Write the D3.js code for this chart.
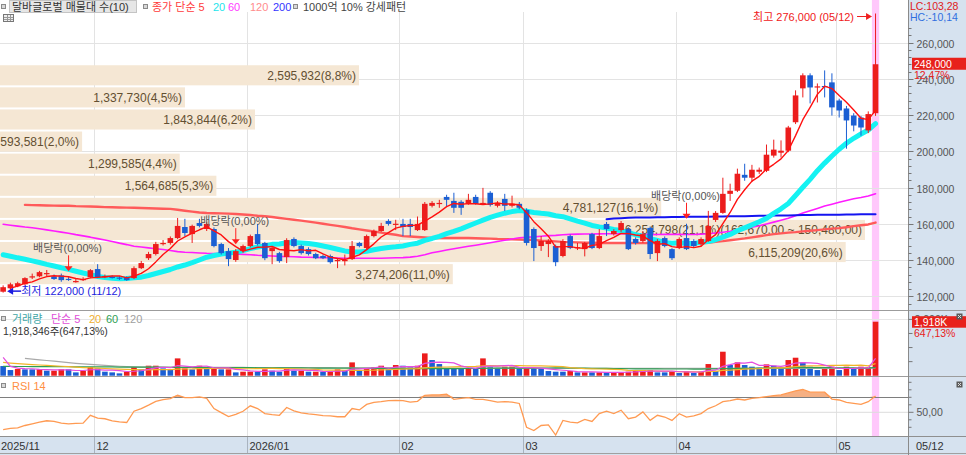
<!DOCTYPE html>
<html><head><meta charset="utf-8">
<script src="https://cdn.jsdelivr.net/npm/d3@7"></script>
<style>
html,body{margin:0;padding:0;background:#fff;}
svg{display:block;}
text{font-family:"Liberation Sans","Noto Sans CJK KR",sans-serif;}
</style></head><body>
<svg id="chart" width="966" height="455"></svg>
<script>
// ---------------- DATA ----------------
const dates = [
"2025-11-12","2025-11-13","2025-11-14","2025-11-17","2025-11-18","2025-11-19","2025-11-20","2025-11-21","2025-11-24","2025-11-25","2025-11-26","2025-11-27","2025-11-28",
"2025-12-01","2025-12-02","2025-12-03","2025-12-04","2025-12-05","2025-12-08","2025-12-09","2025-12-10","2025-12-11","2025-12-12","2025-12-15","2025-12-16","2025-12-17","2025-12-18","2025-12-19","2025-12-22","2025-12-23","2025-12-24","2025-12-26","2025-12-29","2025-12-30",
"2026-01-02","2026-01-05","2026-01-06","2026-01-07","2026-01-08","2026-01-09","2026-01-12","2026-01-13","2026-01-14","2026-01-15","2026-01-16","2026-01-19","2026-01-20","2026-01-21","2026-01-22","2026-01-23","2026-01-26","2026-01-27","2026-01-28","2026-01-29","2026-01-30",
"2026-02-02","2026-02-03","2026-02-04","2026-02-05","2026-02-06","2026-02-09","2026-02-10","2026-02-11","2026-02-12","2026-02-13","2026-02-19","2026-02-20","2026-02-23","2026-02-24","2026-02-25","2026-02-26","2026-02-27",
"2026-03-03","2026-03-04","2026-03-05","2026-03-06","2026-03-09","2026-03-10","2026-03-11","2026-03-12","2026-03-13","2026-03-16","2026-03-17","2026-03-18","2026-03-19","2026-03-20","2026-03-23","2026-03-24","2026-03-25","2026-03-26","2026-03-27","2026-03-30","2026-03-31",
"2026-04-01","2026-04-02","2026-04-03","2026-04-06","2026-04-07","2026-04-08","2026-04-09","2026-04-10","2026-04-13","2026-04-14","2026-04-15","2026-04-16","2026-04-17","2026-04-20","2026-04-21","2026-04-22","2026-04-23","2026-04-24","2026-04-27","2026-04-28","2026-04-29","2026-04-30",
"2026-05-04","2026-05-06","2026-05-07","2026-05-08","2026-05-11","2026-05-12"];

const opens = [
122500,124400,125500,126600,130500,131000,132500,131000,131500,129600,
128200,129200,130500,135000,130900,130700,130300,130500,130000,135500,
141000,143300,149100,149400,152100,158200,154300,160400,157100,157100,
148800,144900,140000,144900,147700,154300,149400,144900,143800,141600,
151600,147700,146000,143300,142200,142200,139700,139700,140500,149400,
146600,153200,156000,161500,159700,159900,159900,156500,156500,169900,
171300,174800,172600,172100,171000,174800,171300,177100,169900,173700,
169900,171000,167600,157100,147700,148800,147700,142200,153200,146600,
146000,154300,146600,159900,154300,156500,157100,151600,150500,157700,
143800,152100,146000,146600,152100,150500,148800,150500,162100,166000,
176500,178200,187000,185400,188700,189200,197600,199200,200300,216000,
234700,241900,235200,236000,238000,228000,223600,219700,218600,211500,221000];
const highs = [
126000,127500,128000,130500,132500,134000,134500,132000,132500,131000,
129500,130500,135000,137700,132000,131500,131000,131000,136500,139500,
144500,150000,151000,153000,163200,162700,159500,162700,161000,158000,
149500,146600,146000,148500,154000,159900,150000,147500,144500,152000,
152500,148500,147000,144000,143000,143000,141000,143000,150500,150000,
154000,156800,160500,162500,162200,162700,162700,164000,172000,172500,
173200,176000,177100,173000,176500,176000,179800,178000,172500,176500,
175500,172000,168500,158000,153200,151500,148500,151500,154000,149400,
150000,155000,157100,161000,157000,161500,158000,152500,156000,158500,
151500,153000,146500,152500,160000,151500,152500,167100,167000,185400,
182100,190400,193100,192500,191000,203700,206400,206000,214000,233600,
243000,243000,237400,244600,243000,229000,225000,221000,219500,222000,276000];
const lows = [
122000,123500,125000,126000,129500,130500,131000,129000,128000,128500,
127500,128500,130000,130000,130000,129800,129000,128500,129500,135000,
140000,142500,148000,148500,151500,153200,149400,158000,156000,147000,
143000,136600,139000,144000,147000,148000,139900,137700,138500,138300,
147000,143000,142500,140500,140500,138000,135500,137000,140000,147000,
146000,152500,155500,159000,156500,153200,153200,156000,156000,169000,
168800,169500,166000,164900,170500,170500,170500,169500,169000,167000,
169000,168000,148000,139400,145000,141600,136600,141500,146000,145500,
142000,146000,146000,153200,153500,155500,145500,148500,149500,140500,
139400,147000,140000,146000,145500,147000,147500,150000,161000,165500,
172600,177500,183700,183000,187500,188500,196500,196500,199500,215000,
229700,226400,226900,229700,219700,218600,201400,211000,208600,210000,219500];
const closes = [
125000,126600,127200,130000,131000,133300,132800,129500,128900,129400,
128400,129500,134400,130500,131100,130400,129800,128900,135500,138300,
143300,148800,149400,152100,158800,154900,158800,158800,159900,147700,
143800,140500,144900,147700,153200,148800,141000,146600,139400,151000,
147700,143800,143300,141000,141000,138800,140000,140000,147700,147700,
153200,156000,158800,159900,160000,158200,158200,159900,171000,171500,
171500,173200,168800,168800,173200,171000,171500,170400,171500,169900,
171000,168800,149400,146600,150500,150500,138800,150500,146600,147100,
149400,146600,153200,157100,156000,160400,146000,149400,154300,143300,
150500,147700,141000,151600,146000,147700,151600,158800,166000,176500,
178200,187600,185400,189800,189800,198100,200900,200300,213100,230800,
241900,235200,235800,235800,224200,222500,217000,214200,213100,220500,248000];

const ma5Warm  = [null,124500,125600,127200];
const ma20Warm = [142900,142100,141200,140400,139500,138600,137600,136700,135700,134800,
                  133800,132800,131900,130900,130300,129900,129600,129800,130200];
const ma60Warm = [159700,159200,158700,158200,157800,157200,156600,156000,155400,154800,
                  154000,153300,152600,151800,151000,150200,149300,148500,147600,147200,
                  146700,146200,145800,145200,144600,144300,144100,143900,143700,143600,
                  143500,143400,143300,143100,142900,142600,142400,142200,142000,141900,
                  141800,141600,141500,141400,141300,141200,141100,141000,141000,141000,
                  141000,141000,141000,141100,141200,141300,141600,142100,142900];
const ma120Warm = [null,null,null,170400,170300,170200,170100,170000,169950,169900,
                  169700,169600,169500,169350,169200,169100,169000,168900,168800,168700,
                  168550,168400,168300,168200,167700,167200,166700,166200,165900,165800,
                  165700,165600,165400,165100,164800,164400,164100,163700,163200,162700,
                  162200,161700,161200,160600,160000,159400,158800,158200,157500,156900,
                  156300,155700,155100,154500,153900,153200,153000,152700,152400,152100,
                  152100,152100,152100,152100,152100,152000,151900,151800,151600,151500,
                  151400,151300,151100,151000,150700,150500,150300,150000,149850,149750,
                  149600,149500,149400,149400,149400,149400,149400,149400,149400,149400,
                  149400,149400,149400,149400,149400,149400,149400,149500,150000,150400,
                  150900,151400,151900,152500,153100,153700,154300,154700,155100,155400,
                  155800,156100,156500,156900,157300,157600,158100,158700,159200];
const ma200Read = Array(83).fill(null).concat([
                  162500,162900,163100,163300,163400,163500,163500,163600,163600,163700,
                  163700,163800,163800,163900,163900,164000,164000,164100,164200,164200,
                  164300,164400,164400,164500,164600,164600,164700,164800,164800,164900,
                  164900,165000,165000,165100,165100,165200,165200,165300]);

// volume (thousand shares) and bar colour flags (u = red, d = blue)
const volumesK = [
343,201,237,225,225,225,178,178,225,225,
118,178,308,260,142,118,83,142,308,225,
355,355,260,225,615,260,225,355,260,308,
225,225,118,142,142,142,225,178,142,308,
178,178,142,142,142,142,225,178,473,178,
260,308,355,225,379,355,308,355,793,556,
414,260,260,260,260,260,615,320,260,320,
320,260,260,260,260,166,142,142,166,118,
118,118,118,118,118,118,142,166,201,201,
118,118,166,95,166,95,142,414,166,852,
379,473,379,320,284,402,355,284,556,639,
473,320,201,237,320,201,320,237,320,296.438,1918.346];
const volUp = "ddudduduud" + "duudddduud" + "uudduududu" + "duduududdu" + "dududuudud" +
              "uuududduud" + "ddddududdu" + "ududddddud" + "ududuuuuuu" + "ddududuudu" +
              "dudddudduu" + "ddduududuu" + "u";
const vma5Warm  = [650,330,270,250];
const vma20Warm = [470,450,430,410,395,380,365,350,335,320,305,290,280,268,256,245,235,225,215];
const vma60Warm = [330,328,327,326,324,323,322,320,319,318,
                   316,315,314,312,311,310,308,307,306,304,
                   303,302,300,299,298,296,295,294,292,291,
                   290,288,287,286,284,283,282,280,279,278,
                   276,275,274,272,271,270,268,267,266,264,
                   263,262,260,259,258,256,255,254,252];
const vma120Warm = [null,null,null,615,590,565,540,515,490,465,
                   440,420,400,382,366,350,336,322,312,305,
                   304,303,302,301,300,300,299,298,297,296,
                   296,295,294,293,292,292,291,290,289,288,
                   288,287,286,285,284,284,283,282,281,280,
                   280,279,278,277,276,276,275,274,273,272,
                   272,271,270,270,269,269,268,268,267,267,
                   266,266,265,265,264,264,263,263,262,262,
                   262,261,261,261,260,260,260,260,260,260,
                   260,260,260,260,260,260,260,260,260,260,
                   260,260,260,260,260,260,260,260,260,260,
                   260,260,260,260,260,260,260,260,260];

const rsi14 = [
26.9,28.7,29.2,32.4,34.6,36.9,38.7,37.8,35.5,34.6,
35.1,35.5,46.0,42.3,41.4,38.7,37.3,36.4,51.4,55.0,
59.6,64.6,66.8,68.2,72.7,69.5,69.5,70.5,68.6,55.0,
49.6,44.2,47.3,51.4,58.7,55.0,48.2,46.9,46.0,56.4,
51.9,49.1,47.8,46.9,45.5,45.1,44.1,44.1,55.0,53.2,
60.5,63.2,64.1,65.5,65.9,65.5,63.7,64.6,72.7,73.2,
73.2,74.1,67.3,68.6,69.5,67.3,67.3,65.5,63.7,64.1,
63.7,61.8,30.1,25.6,32.4,33.3,19.7,39.2,36.9,36.0,
40.5,37.8,48.2,51.4,48.2,52.8,41.4,43.7,50.5,39.2,
46.0,43.7,39.2,48.2,43.7,45.1,48.2,55.0,58.7,64.1,
65.5,67.7,66.4,68.6,69.5,70.9,72.3,73.2,75.9,78.6,
80.4,76.8,76.8,76.8,67.7,66.4,63.2,61.8,60.5,64.1,71.8];

// price-volume profile (매물대), top band first
const bandBounds  = [248000,235810,223620,211430,199240,187050,174860,162670,150480,138290,126100];
const bandVolumes = [2595932,1337730,1843844,593581,1299585,1564685,4781127,6254798,6115209,3274206];

const priceTicks = [120000,140000,160000,180000,200000,220000,240000,260000];
const dividendDates = ["2025-11-25","2025-12-29","2026-04-02"];
const lcText = "LC:103,28", hcText = "HC:-10,14";

// ---------------- CHART ----------------
const svg = d3.select('#chart');
const PR = 908.5;              // right edge of the plot area
const N = dates.length;
const RED = '#ec1d1d', BLUE = '#1b5fd3', AXBG = '#d6e2ef';
const fmt = d3.format(',');
const comma = s => s.replace('.', ',');

const x = d3.scaleBand().domain(dates).range([-0.5, -0.5 + N * 7.27]);
const cx = i => x(dates[i]) + x.bandwidth() / 2;
const yP = d3.scaleLinear().domain([140000, 260000]).range([260, 42.5]);
const yV = d3.scaleLinear().domain([0, 2000000]).range([375.7, 319.4]);
const yR = d3.scaleLinear().domain([50, 70]).range([412.3, 397.3]);

const volumes = volumesK.map(v => Math.round(v * 1000));
function sma(src, n, warm) {
  return src.map((_, i) => i >= n - 1 ? d3.mean(src.slice(i - n + 1, i + 1))
                                      : (warm && warm[i] != null ? warm[i] : null));
}
const ma5 = sma(closes, 5, ma5Warm), ma20 = sma(closes, 20, ma20Warm),
      ma60 = sma(closes, 60, ma60Warm), ma120 = sma(closes, 120, ma120Warm), ma200 = ma200Read;
const vma5 = sma(volumes, 5, vma5Warm.map(v => v * 1000)),
      vma20 = sma(volumes, 20, vma20Warm.map(v => v * 1000)),
      vma60 = sma(volumes, 60, vma60Warm.map(v => v * 1000)),
      vma120 = sma(volumes, 120, vma120Warm.map(v => v == null ? null : v * 1000));

const defs = svg.append('defs');
defs.append('clipPath').attr('id', 'cp').append('rect').attr('x', 0).attr('y', 0).attr('width', PR).attr('height', 310);
defs.append('clipPath').attr('id', 'cv').append('rect').attr('x', 0).attr('y', 311).attr('width', PR).attr('height', 65);
defs.append('clipPath').attr('id', 'cr').append('rect').attr('x', 0).attr('y', 376.5).attr('width', PR).attr('height', 60);

svg.append('rect').attr('width', 966).attr('height', 455).attr('fill', '#fff');
svg.append('rect').attr('x', PR).attr('y', 0).attr('width', 966 - PR).attr('height', 455).attr('fill', AXBG);
svg.append('rect').attr('x', 0).attr('y', 436.5).attr('width', 966).attr('height', 18.5).attr('fill', AXBG);

// highlight of the latest session
svg.append('rect').attr('x', x(dates[N - 1])).attr('y', 0).attr('width', x.bandwidth()).attr('height', 436)
  .attr('fill', '#ffc8fb');

// grid
const grid = svg.append('g').attr('stroke', '#e3e3e3').attr('stroke-width', 1);
priceTicks.forEach(v => grid.append('line').attr('x1', 0).attr('x2', PR)
  .attr('y1', Math.round(yP(v)) + 0.5).attr('y2', Math.round(yP(v)) + 0.5));
const monthIdx = dates.map((d, i) => i).filter(i => i > 0 && dates[i].slice(5, 7) !== dates[i - 1].slice(5, 7));
monthIdx.forEach(i => {
  const gx = Math.round(x(dates[i])) + 0.5;
  grid.append('line').attr('x1', gx).attr('x2', gx).attr('y1', 12).attr('y2', 436);
  svg.append('line').attr('x1', gx).attr('x2', gx).attr('y1', 436.5).attr('y2', 453).attr('stroke', '#a9b3bf');
});
svg.append('line').attr('x1', 0).attr('x2', PR).attr('y1', Math.round(yV(2000000)) + 0.5).attr('y2', Math.round(yV(2000000)) + 0.5).attr('stroke', '#e6e6e6');
svg.append('line').attr('x1', 0).attr('x2', PR).attr('y1', yR(50)).attr('y2', yR(50)).attr('stroke', '#dcdcdc');

// price panel
const gp = svg.append('g').attr('clip-path', 'url(#cp)');

// volume profile bands
const totalBand = d3.sum(bandVolumes);
const wBand = d3.scaleLinear().domain([0, d3.max(bandVolumes)]).range([0, 865]);
const maxBand = d3.maxIndex(bandVolumes);
const f2 = v => d3.format(',.2f')(v).replace(/\.(\d\d)$/, ',$1');
bandVolumes.forEach((v, k) => {
  const t = yP(bandBounds[k]), b = yP(bandBounds[k + 1]);
  const w = wBand(v);
  gp.append('rect').attr('x', 0).attr('y', t + 1).attr('width', w).attr('height', b - t - 2).attr('fill', '#f5e7d4');
  let label = fmt(v) + '(' + comma((v / totalBand * 100).toFixed(1)) + '%)';
  if (k === maxBand) label += '(' + f2(bandBounds[k]) + ' ~ ' + f2(bandBounds[k + 1]) + ')';
  gp.append('text').attr('x', w - 3).attr('y', (t + b) / 2 + 0.5).attr('text-anchor', 'end')
    .attr('dominant-baseline', 'central').attr('font-size', 12).attr('fill', '#634f31').text(label);
});

const line = d3.line().defined(d => d != null).x((d, i) => cx(i)).y(d => yP(d));
function mline(g, data, color, w) {
  g.append('path').datum(data).attr('d', line).attr('fill', 'none').attr('stroke', color)
    .attr('stroke-width', w).attr('stroke-linejoin', 'round').attr('stroke-linecap', 'round');
}
mline(gp, ma120, '#ff5a5a', 2.4);
mline(gp, ma60, '#ff1cff', 1.6);
mline(gp, ma200, '#1414f0', 2);
mline(gp, ma20, '#14f2f2', 5);

// candles
const gc = gp.append('g');
dates.forEach((d, i) => {
  const up = closes[i] >= opens[i];
  const col = up ? RED : BLUE;
  const c = cx(i);
  gc.append('line').attr('x1', c).attr('x2', c).attr('y1', yP(highs[i])).attr('y2', yP(lows[i]))
    .attr('stroke', col).attr('stroke-width', 1);
  const top = yP(Math.max(opens[i], closes[i])), bot = yP(Math.min(opens[i], closes[i]));
  gc.append('rect').attr('x', c - 2.8).attr('y', top).attr('width', 5.6).attr('height', Math.max(1.2, bot - top))
    .attr('fill', col);
});
mline(gp, ma5, '#ff1010', 1.4);

// dividend markers
dividendDates.forEach(dd => {
  const i = dates.indexOf(dd);
  const c = cx(i), tip = yP(highs[i]) - 5;
  gp.append('line').attr('x1', c).attr('x2', c).attr('y1', tip - 16).attr('y2', tip - 4).attr('stroke', '#ff2020');
  gp.append('path').attr('d', `M${c - 4},${tip - 5}L${c + 4},${tip - 5}L${c},${tip}Z`).attr('fill', '#ff2020');
  gp.append('text').attr('x', c - 1).attr('y', tip - 23).attr('text-anchor', 'middle').attr('dominant-baseline', 'central')
    .attr('font-size', 11).attr('fill', '#555').text('배당락(0,00%)');
});

// high / low markers
const hi = d3.maxIndex(highs), lo = d3.minIndex(lows);
const md = s => s.slice(5, 7) + '/' + s.slice(8, 10);
{
  const c = cx(hi) - 3.5, yy = yP(highs[hi]) + 3;
  gp.append('text').attr('x', c - 18).attr('y', yy).attr('text-anchor', 'end').attr('dominant-baseline', 'central')
    .attr('font-size', 11).attr('fill', '#f02020').text('최고 ' + fmt(highs[hi]) + ' (' + md(dates[hi]) + ')');
  gp.append('line').attr('x1', c - 15).attr('x2', c - 3).attr('y1', yy).attr('y2', yy).attr('stroke', '#f02020');
  gp.append('path').attr('d', `M${c},${yy}L${c - 6},${yy - 3.5}L${c - 6},${yy + 3.5}Z`).attr('fill', '#f02020');
}
{
  const c = cx(lo) + 4, yy = yP(lows[lo]) - 1.5;
  gp.append('path').attr('d', `M${c},${yy}L${c + 6},${yy - 3.5}L${c + 6},${yy + 3.5}Z`).attr('fill', '#1c1ce0');
  gp.append('line').attr('x1', c + 5).attr('x2', c + 14).attr('y1', yy).attr('y2', yy).attr('stroke', '#1c1ce0').attr('stroke-width', 1.5);
  gp.append('text').attr('x', c + 14).attr('y', yy).attr('dominant-baseline', 'central')
    .attr('font-size', 11).attr('fill', '#1c1ce0').text('최저 ' + fmt(lows[lo]) + ' (' + md(dates[lo]) + ')');
}

// volume panel
const gv = svg.append('g').attr('clip-path', 'url(#cv)');
volumes.forEach((v, i) => {
  gv.append('rect').attr('x', cx(i) - 2.8).attr('y', yV(v)).attr('width', 5.6).attr('height', yV(0) - yV(v))
    .attr('fill', volUp[i] === 'u' ? RED : BLUE);
});
const vline = d3.line().defined(d => d != null).x((d, i) => cx(i)).y(d => yV(d));
[[vma120, '#a9a9a9'], [vma60, '#2f9e55'], [vma20, '#f2b428'], [vma5, '#e44ee0']].forEach(([d, col]) =>
  gv.append('path').datum(d).attr('d', vline).attr('fill', 'none').attr('stroke', col).attr('stroke-width', 1.2));

// RSI panel
const gr = svg.append('g').attr('clip-path', 'url(#cr)');
const area = d3.area().x((d, i) => cx(i)).y0(yR(70)).y1(d => yR(Math.max(70, d)));
gr.append('path').datum(rsi14).attr('d', area).attr('fill', '#f6b083');
gr.append('line').attr('x1', 0).attr('x2', PR).attr('y1', Math.round(yR(70)) + 0.5).attr('y2', Math.round(yR(70)) + 0.5).attr('stroke', '#7e7e7e');
gr.append('path').datum(rsi14).attr('d', d3.line().x((d, i) => cx(i)).y(d => yR(d)))
  .attr('fill', 'none').attr('stroke', '#ff9a52').attr('stroke-width', 1.3);

// separators
[[310.5, '#9c9c9c'], [376.5, '#9c9c9c'], [436.5, '#8f8f8f'], [453.5, '#a0a0a0']].forEach(([yy, c]) =>
  svg.append('line').attr('x1', 0).attr('x2', 966).attr('y1', yy).attr('y2', yy).attr('stroke', c));
svg.append('line').attr('x1', PR).attr('x2', PR).attr('y1', 0).attr('y2', 455).attr('stroke', '#8a8a8a');

// right axes
const ax = svg.append('g');
for (let v = 116000; v <= 276000; v += 4000) {
  const yy = Math.round(yP(v)) + 0.5;
  if (yy < 22 || yy > 306) continue;
  const major = v % 20000 === 0;
  ax.append('line').attr('x1', PR).attr('x2', PR + (major ? 5 : 3)).attr('y1', yy).attr('y2', yy).attr('stroke', '#777');
  if (major) ax.append('text').attr('x', PR + 8).attr('y', yy).attr('dominant-baseline', 'central')
    .attr('font-size', 10.5).attr('fill', '#555').text(fmt(v));
}
[500000, 1000000, 1500000, 2000000].forEach(v => ax.append('line').attr('x1', PR).attr('x2', PR + 4)
  .attr('y1', yV(v)).attr('y2', yV(v)).attr('stroke', '#777'));
ax.append('text').attr('x', PR + 6).attr('y', yV(2000000)).attr('dominant-baseline', 'central')
  .attr('font-size', 10.5).attr('fill', '#555').text('2,000K');
[30, 40, 50, 60, 70, 80, 90].forEach(v => ax.append('line').attr('x1', PR).attr('x2', PR + (v === 50 ? 5 : 3))
  .attr('y1', yR(v)).attr('y2', yR(v)).attr('stroke', '#777'));
ax.append('text').attr('x', PR + 8).attr('y', yR(50)).attr('dominant-baseline', 'central')
  .attr('font-size', 10.5).attr('fill', '#555').text('50,00');

// current price tag
const last = N - 1;
const chg = (closes[last] / closes[last - 1] - 1) * 100;
ax.append('rect').attr('x', 912).attr('y', yP(closes[last]) - 6.5).attr('width', 54).attr('height', 12).attr('fill', '#e8211b');
ax.append('text').attr('x', 914).attr('y', yP(closes[last])).attr('dominant-baseline', 'central')
  .attr('font-size', 10.5).attr('fill', '#fff').text(fmt(closes[last]));
ax.append('text').attr('x', 914).attr('y', yP(closes[last]) + 10.5).attr('dominant-baseline', 'central')
  .attr('font-size', 10.5).attr('fill', '#e8211b').text(comma(chg.toFixed(2)) + '%');
// current volume tag
const vch = volumes[last] / volumes[last - 1] * 100;
ax.append('rect').attr('x', 912).attr('y', yV(volumes[last]) - 5.5).attr('width', 54).attr('height', 11.5).attr('fill', '#e8211b');
ax.append('text').attr('x', 914).attr('y', yV(volumes[last]) + 0.3).attr('dominant-baseline', 'central')
  .attr('font-size', 10.5).attr('fill', '#fff').text(fmt(Math.round(volumes[last] / 1000)) + 'K');
ax.append('text').attr('x', 914).attr('y', yV(volumes[last]) + 11).attr('dominant-baseline', 'central')
  .attr('font-size', 10.5).attr('fill', '#e8211b').text(comma(vch.toFixed(2)) + '%');
// LC / HC
ax.append('text').attr('x', 910).attr('y', 5.5).attr('dominant-baseline', 'central').attr('font-size', 10.5).attr('fill', '#e02020').text(lcText);
ax.append('text').attr('x', 910).attr('y', 16.5).attr('dominant-baseline', 'central').attr('font-size', 10.5).attr('fill', '#2f6fe0').text(hcText);
// panel icons
[313, 381].forEach(yy => {
  ax.append('rect').attr('x', 956.5).attr('y', yy + 0.5).attr('width', 6).attr('height', 6).attr('fill', '#5a5a5a');
  ax.append('path').attr('d', `M958,${yy + 2}L961,${yy + 5}M961,${yy + 2}L958,${yy + 5}`).attr('stroke', '#ddd');
});

// x axis labels
const xl = svg.append('g').attr('font-size', 11).attr('fill', '#333');
xl.append('text').attr('x', 1).attr('y', 445.5).attr('dominant-baseline', 'central').text(dates[0].slice(0, 4) + '/' + dates[0].slice(5, 7));
monthIdx.forEach(i => {
  const m = dates[i].slice(5, 7);
  xl.append('text').attr('x', Math.round(x(dates[i])) + 2.5).attr('y', 445.5).attr('dominant-baseline', 'central')
    .text(m === '01' ? dates[i].slice(0, 4) + '/01' : m);
});
xl.append('text').attr('x', 916).attr('y', 445.5).attr('dominant-baseline', 'central').text(md(dates[last]));

// legends
function icon(xx, yy) {
  svg.append('rect').attr('x', xx + 0.5).attr('y', yy + 0.5).attr('width', 4).attr('height', 4)
    .attr('fill', '#d8d8d8').attr('stroke', '#8a8a8a');
}
function ltxt(xx, yy, s, col, fs) {
  svg.append('text').attr('x', xx).attr('y', yy).attr('dominant-baseline', 'central')
    .attr('font-size', fs || 11).attr('fill', col).text(s);
}
icon(1, 4);
svg.append('rect').attr('x', 9.5).attr('y', 0.5).attr('width', 127).attr('height', 12).attr('fill', '#e6e6e6').attr('stroke', '#c4c4c4');
ltxt(12, 6.5, '달바글로벌 매물대 수(10)', '#333');
icon(143, 4);
ltxt(152, 6.5, '종가 단순 5', '#ff3b3b');
ltxt(213, 6.5, '20', '#22e4ec');
ltxt(228, 6.5, '60', '#ff3cff');
ltxt(250, 6.5, '120', '#ff8c8c');
ltxt(273, 6.5, '200', '#3434ff');
icon(293, 4);
ltxt(303, 6.5, '1000억 10% 강세패턴', '#444');
// small table icon
svg.append('rect').attr('x', 3.5).attr('y', 14.5).attr('width', 10).attr('height', 7).attr('fill', '#eee').attr('stroke', '#777');
svg.append('path').attr('d', 'M4,17.5H13M4,19.5H13M7.5,15V21M10.5,15V21').attr('stroke', '#999');

icon(1, 316);
ltxt(12, 318.5, '거래량', '#3fa6a6');
ltxt(51, 318.5, '단순 5', '#e04ed8');
ltxt(89, 318.5, '20', '#f0b030');
ltxt(106, 318.5, '60', '#2f9e55');
ltxt(124, 318.5, '120', '#a0a0a0');
ltxt(3, 330.5, fmt(volumes[last]) + '주(' + comma(vch.toFixed(2)) + '%)', '#333', 10.5);
icon(1, 383);
ltxt(12, 385.5, 'RSI 14', '#ff8e42');
</script>
</body></html>
